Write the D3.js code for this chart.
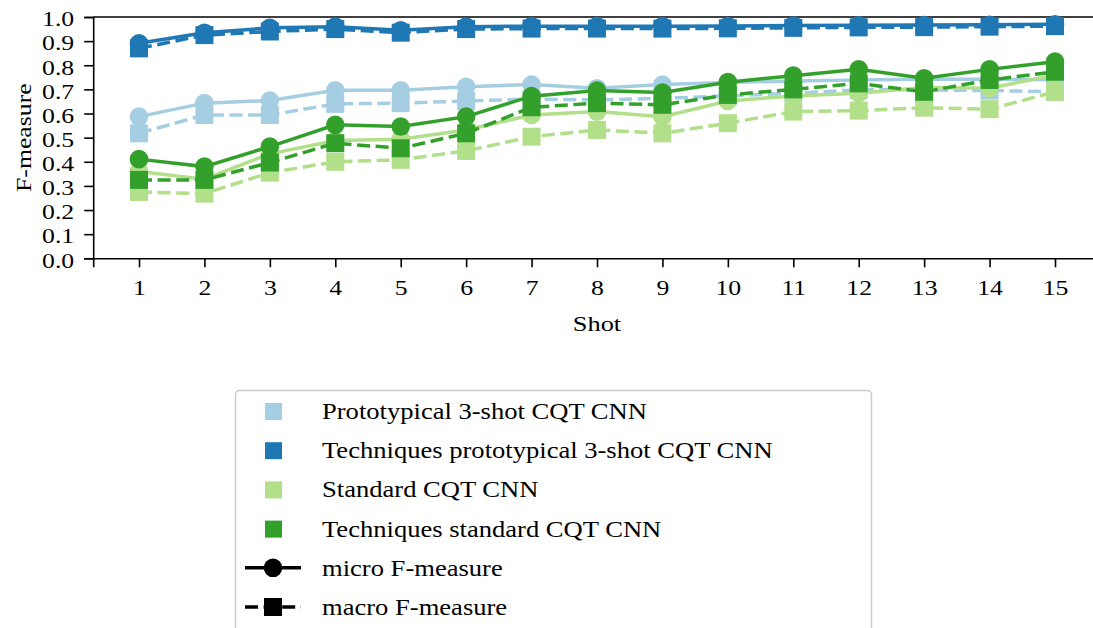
<!DOCTYPE html>
<html>
<head>
<meta charset="utf-8">
<script src="https://cdn.jsdelivr.net/npm/d3@7"></script>
<style>
  body { margin: 0; background: #fff; }
  svg { display: block; font-family: "Liberation Serif", "Times New Roman", serif; }
</style>
</head>
<body>
<div id="container"></div>
<script>
const width = 1093;
const height = 628;

// shots on the x axis
const shots = [1, 2, 3, 4, 5, 6, 7, 8, 9, 10, 11, 12, 13, 14, 15];
const yTicks = [0, 0.1, 0.2, 0.3, 0.4, 0.5, 0.6, 0.7, 0.8, 0.9, 1.0];

const models = [
  "Prototypical 3-shot CQT CNN",
  "Techniques prototypical 3-shot CQT CNN",
  "Standard CQT CNN",
  "Techniques standard CQT CNN"
];
const modelColors = ["#a6cee3", "#1f78b4", "#b2df8a", "#33a02c"];

// micro / macro F-measure per model
const protoMicro = [0.587, 0.643, 0.654, 0.696, 0.696, 0.711, 0.72, 0.705, 0.72, 0.729, 0.735, 0.739, 0.742, 0.742, 0.74];
const protoMacro = [0.518, 0.594, 0.594, 0.64, 0.643, 0.652, 0.66, 0.656, 0.663, 0.673, 0.684, 0.698, 0.698, 0.695, 0.69];
const techProtoMicro = [0.891, 0.935, 0.955, 0.96, 0.945, 0.96, 0.962, 0.962, 0.962, 0.963, 0.965, 0.966, 0.967, 0.968, 0.97];
const techProtoMacro = [0.87, 0.925, 0.94, 0.95, 0.935, 0.95, 0.952, 0.952, 0.952, 0.953, 0.955, 0.957, 0.958, 0.96, 0.962];
const stdMicro = [0.36, 0.328, 0.433, 0.488, 0.493, 0.532, 0.594, 0.608, 0.587, 0.652, 0.673, 0.684, 0.708, 0.705, 0.76];
const stdMacro = [0.275, 0.268, 0.355, 0.40, 0.408, 0.445, 0.504, 0.532, 0.518, 0.56, 0.608, 0.612, 0.624, 0.618, 0.69];
const techStdMicro = [0.411, 0.38, 0.463, 0.553, 0.546, 0.587, 0.672, 0.695, 0.687, 0.73, 0.757, 0.783, 0.746, 0.783, 0.815];
const techStdMacro = [0.325, 0.325, 0.397, 0.477, 0.456, 0.518, 0.626, 0.643, 0.636, 0.677, 0.70, 0.725, 0.69, 0.739, 0.773];

const series = [
  { model: 0, kind: "micro", values: protoMicro },
  { model: 0, kind: "macro", values: protoMacro },
  { model: 1, kind: "micro", values: techProtoMicro },
  { model: 1, kind: "macro", values: techProtoMacro },
  { model: 2, kind: "micro", values: stdMicro },
  { model: 2, kind: "macro", values: stdMacro },
  { model: 3, kind: "micro", values: techStdMicro },
  { model: 3, kind: "macro", values: techStdMacro }
];

// the reference face is wider than Liberation Serif, so stretch glyphs a bit
function widen(sel, k) {
  sel.each(function () {
    const len = this.getComputedTextLength();
    d3.select(this)
      .attr("textLength", len * k)
      .attr("lengthAdjust", "spacingAndGlyphs");
  });
}

const svg = d3.select("#container")
  .append("svg")
  .attr("width", width)
  .attr("height", height);

// matplotlib-ish 5% margins on x: the right spine falls off the picture
const x = d3.scaleLinear().domain([0.3, 15.7]).range([93.2, 1100.8]);
const y = d3.scaleLinear().domain([0, 1]).range([258.3, 17]);

// axes
const xAxis = svg.append("g")
  .attr("transform", `translate(0,${y(0)})`)
  .call(d3.axisBottom(x).tickValues(shots).tickFormat(d3.format("d")).tickSize(9).tickPadding(12));
const yAxis = svg.append("g")
  .attr("transform", `translate(${x(0.3)},0)`)
  .call(d3.axisLeft(y).tickValues(yTicks).tickFormat(d3.format(".1f")).tickSize(9).tickPadding(10));

[xAxis, yAxis].forEach(g => {
  g.select(".domain").attr("stroke", "#000").attr("stroke-width", 1.6);
  g.selectAll(".tick line").attr("stroke", "#000").attr("stroke-width", 1.6);
  g.selectAll(".tick text").attr("fill", "#000").style("font-size", "22px")
    .style("font-family", "'Liberation Serif', serif");
  widen(g.selectAll(".tick text"), 1.17);
});
yAxis.selectAll(".tick text").attr("dy", "0.4em");

// top spine
svg.append("line")
  .attr("x1", x(0.3)).attr("x2", x(15.7))
  .attr("y1", y(1)).attr("y2", y(1))
  .attr("stroke", "#000").attr("stroke-width", 1.6);

svg.append("text")
  .attr("x", 597)
  .attr("y", 331)
  .attr("text-anchor", "middle")
  .style("font-size", "22px")
  .text("Shot")
  .call(widen, 1.2);

svg.append("text")
  .attr("transform", `translate(31,${(y(0) + y(1)) / 2}) rotate(-90)`)
  .attr("text-anchor", "middle")
  .style("font-size", "22px")
  .text("F-measure")
  .call(widen, 1.17);

// lines + markers
const line = d3.line()
  .x((d, i) => x(shots[i]))
  .y(d => y(d));

const plot = svg.append("g");
const msize = 18;
const lw = 3.5;
const dash = "13,5.6";

series.forEach(s => {
  const color = modelColors[s.model];
  const g = plot.append("g");
  g.append("path")
    .attr("d", line(s.values))
    .attr("fill", "none")
    .attr("stroke", color)
    .attr("stroke-width", lw)
    .attr("stroke-dasharray", s.kind === "macro" ? dash : null);

  if (s.kind === "micro") {
    g.selectAll("circle")
      .data(s.values)
      .enter()
      .append("circle")
      .attr("cx", (d, i) => x(shots[i]))
      .attr("cy", d => y(d))
      .attr("r", 9.3)
      .attr("fill", color);
  } else {
    g.selectAll("rect")
      .data(s.values)
      .enter()
      .append("rect")
      .attr("x", (d, i) => x(shots[i]) - msize / 2)
      .attr("y", d => y(d) - msize / 2)
      .attr("width", msize)
      .attr("height", msize)
      .attr("fill", color);
  }
});

// legend
const legend = svg.append("g");
legend.append("rect")
  .attr("x", 235.5).attr("y", 390.5)
  .attr("width", 636).attr("height", 280)
  .attr("rx", 4)
  .attr("fill", "#fff")
  .attr("stroke", "#cccccc")
  .attr("stroke-width", 1.5);

const rowY = d3.scaleLinear().domain([0, 5]).range([411, 607]);
const textX = 322;

models.forEach((m, i) => {
  legend.append("rect")
    .attr("x", 265).attr("y", rowY(i) - 8)
    .attr("width", 17).attr("height", 17)
    .attr("fill", modelColors[i]);
  legend.append("text")
    .attr("x", textX).attr("y", rowY(i))
    .attr("dy", "0.35em")
    .style("font-size", "23px")
    .text(m)
    .call(widen, 1.155);
});

const styleRows = [
  { label: "micro F-measure", dash: null, marker: "circle" },
  { label: "macro F-measure", dash: dash, marker: "square" }
];
styleRows.forEach((r, j) => {
  const cy = rowY(4 + j);
  legend.append("line")
    .attr("x1", 245).attr("x2", 301)
    .attr("y1", cy).attr("y2", cy)
    .attr("stroke", "#000").attr("stroke-width", lw)
    .attr("stroke-dasharray", r.dash);
  if (r.marker === "circle") {
    legend.append("circle").attr("cx", 273).attr("cy", cy).attr("r", 9.3).attr("fill", "#000");
  } else {
    legend.append("rect").attr("x", 273 - 9).attr("y", cy - 9)
      .attr("width", 18).attr("height", 18).attr("fill", "#000");
  }
  legend.append("text")
    .attr("x", textX).attr("y", cy)
    .attr("dy", "0.35em")
    .style("font-size", "23px")
    .text(r.label)
    .call(widen, 1.155);
});
</script>
</body>
</html>
